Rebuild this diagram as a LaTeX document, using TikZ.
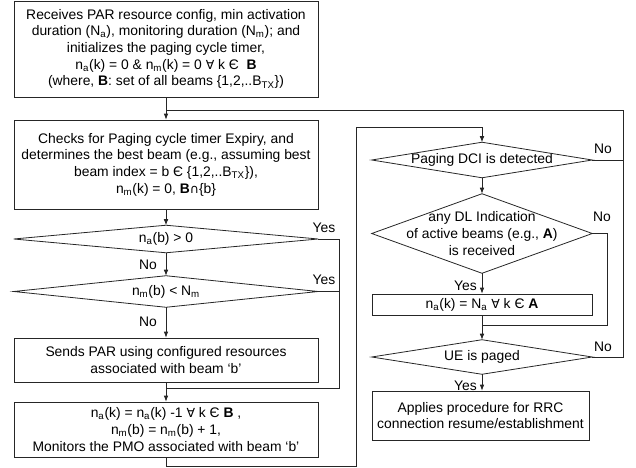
\documentclass[tikz,border=0pt]{standalone}
\usepackage{fontspec}
\setmainfont{Liberation Sans}
\newfontfamily\dvs[Scale=0.9]{DejaVu Sans}
\usetikzlibrary{arrows.meta}
\newcommand{\fs}{\fontsize{10.4}{12.5}\selectfont}
\newcommand{\sbs}[1]{\textsubscript{#1}}
\newcommand{\fa}{{\dvs ∀}}
\newcommand{\capsym}{{\dvs ∩}}
\begin{document}
\begin{tikzpicture}[x=0.75pt,y=-0.75pt]
\tikzset{
 box/.style={draw=black!85, line width=0.6pt, inner sep=0pt, align=center, font=\fs},
 dia/.style={inner sep=0pt, align=center, font=\fs},
 ln/.style={draw=black!85, line width=0.6pt},
 arr/.style={ln, -{Latex[length=4.5pt,width=3.5pt]}},
 lab/.style={font=\fs, inner sep=0pt}
}
\useasboundingbox (0,0) rectangle (636,468);

% left column
\node[box, minimum width=228pt, minimum height=72pt] (b1) at (166,49) {Receives PAR resource config, min activation\\
duration (N\sbs{a}), monitoring duration (N\sbs{m}); and\\
initializes the paging cycle timer,\\
n\sbs{a}(k) = 0 \& n\sbs{m}(k) = 0 \fa\ k Є\ \ \textbf{B}\\
(where, \textbf{B}: set of all beams \{1,2,..B\sbs{TX}\})};

\node[box, minimum width=228pt, minimum height=66.75pt] (b2) at (166,164.5) {Checks for Paging cycle timer Expiry, and\\
determines the best beam (e.g., assuming best\\
beam index = b Є \{1,2,..B\sbs{TX}\}),\\
n\sbs{m}(k) = 0, \textbf{B}\capsym\{b\}};

\node[dia, minimum width=228pt, minimum height=20.25pt] (d1) at (166,239) {n\sbs{a}(b) > 0};
\draw[ln] (d1.north)--(d1.east)--(d1.south)--(d1.west)--cycle;

\node[dia, minimum width=228pt, minimum height=23.25pt] (d2) at (166,291.5) {n\sbs{m}(b) < N\sbs{m}};
\draw[ln] (d2.north)--(d2.east)--(d2.south)--(d2.west)--cycle;

\node[box, minimum width=228pt, minimum height=33pt] (b3) at (166,360) {Sends PAR using configured resources\\
associated with beam ‘b’};

\node[box, minimum width=228pt, minimum height=41.25pt] (b5) at (166,429.5) {n\sbs{a}(k) = n\sbs{a}(k) -1 \fa\ k Є \textbf{B} ,\\
n\sbs{m}(b) = n\sbs{m}(b) + 1,\\
Monitors the PMO associated with beam ‘b’};

% right column
\node[dia, minimum width=165pt, minimum height=26.25pt] (dci) at (482,160) {Paging DCI is detected};
\draw[ln] (dci.north)--(dci.east)--(dci.south)--(dci.west)--cycle;

\node[dia, minimum width=165pt, minimum height=59.25pt] (dl) at (482,233.5) {any DL Indication\\
of active beams (e.g., \textbf{A})\\
is received};
\draw[ln] (dl.north)--(dl.east)--(dl.south)--(dl.west)--cycle;

\node[box, minimum width=165pt, minimum height=15.75pt] (na) at (482,304.5) {n\sbs{a}(k) = N\sbs{a} \fa\ k Є \textbf{A}};

\node[dia, minimum width=165pt, minimum height=25.5pt] (ue) at (482,357) {UE is paged};
\draw[ln] (ue.north)--(ue.east)--(ue.south)--(ue.west)--cycle;

\node[box, minimum width=162.75pt, minimum height=36.75pt] (ap) at (480.5,415.5) {Applies procedure for RRC\\
connection resume/establishment};

% junctions and corners
\coordinate (j1) at (166,110);
\coordinate (j2) at (166,388);
\coordinate (j3) at (482,325);
\coordinate (rc) at (623,110);
\coordinate (yc) at (339,388);
\coordinate (lc1) at (356,466);
\coordinate (lc2) at (356,127);
\coordinate (nc) at (607,325);

% connectors
\draw[ln] (b1.south) -- (j1);
\draw[arr] (j1) -- (b2.north);
\draw[arr] (b2.south) -- (d1.north);
\draw[arr] (d1.south) -- (d2.north);
\draw[arr] (d2.south) -- (b3.north);
\draw[ln] (d1.east) -| (yc) -- (j2);
\draw[ln] (d2.east) -- (d2.east -| yc);
\draw[ln] (b3.south) -- (j2);
\draw[arr] (j2) -- (b5.north);
\draw[arr] (b5.south) |- (lc1) -- (lc2) -| (dci.north);

\draw[arr] (dci.south) -- (dl.north);
\draw[arr] (dl.south) -- (na.north);
\draw[ln] (dl.east) -| (nc) -- (j3);
\draw[ln] (na.south) -- (j3);
\draw[arr] (j3) -- (ue.north);
\draw[arr] (ue.south) -- (ue.south |- ap.north);
\draw[ln] (ue.east) -| (rc) -- (j1);
\draw[ln] (dci.east) -- (dci.east -| rc);

% labels
\node[lab] (y1) at (324,228) {Yes};
\node[lab] (y2) at (324,280) {Yes};
\node[lab, anchor=east] (n1) at (157,265) {No};
\node[lab, anchor=east] (n2) at (157,322) {No};
\node[lab] (n3) at (603,149) {No};
\node[lab] (n4) at (602,217) {No};
\node[lab] (n5) at (603,347) {No};
\node[lab, anchor=east] (y3) at (477,286) {Yes};
\node[lab, anchor=east] (y4) at (477,386) {Yes};
\end{tikzpicture}
\end{document}
